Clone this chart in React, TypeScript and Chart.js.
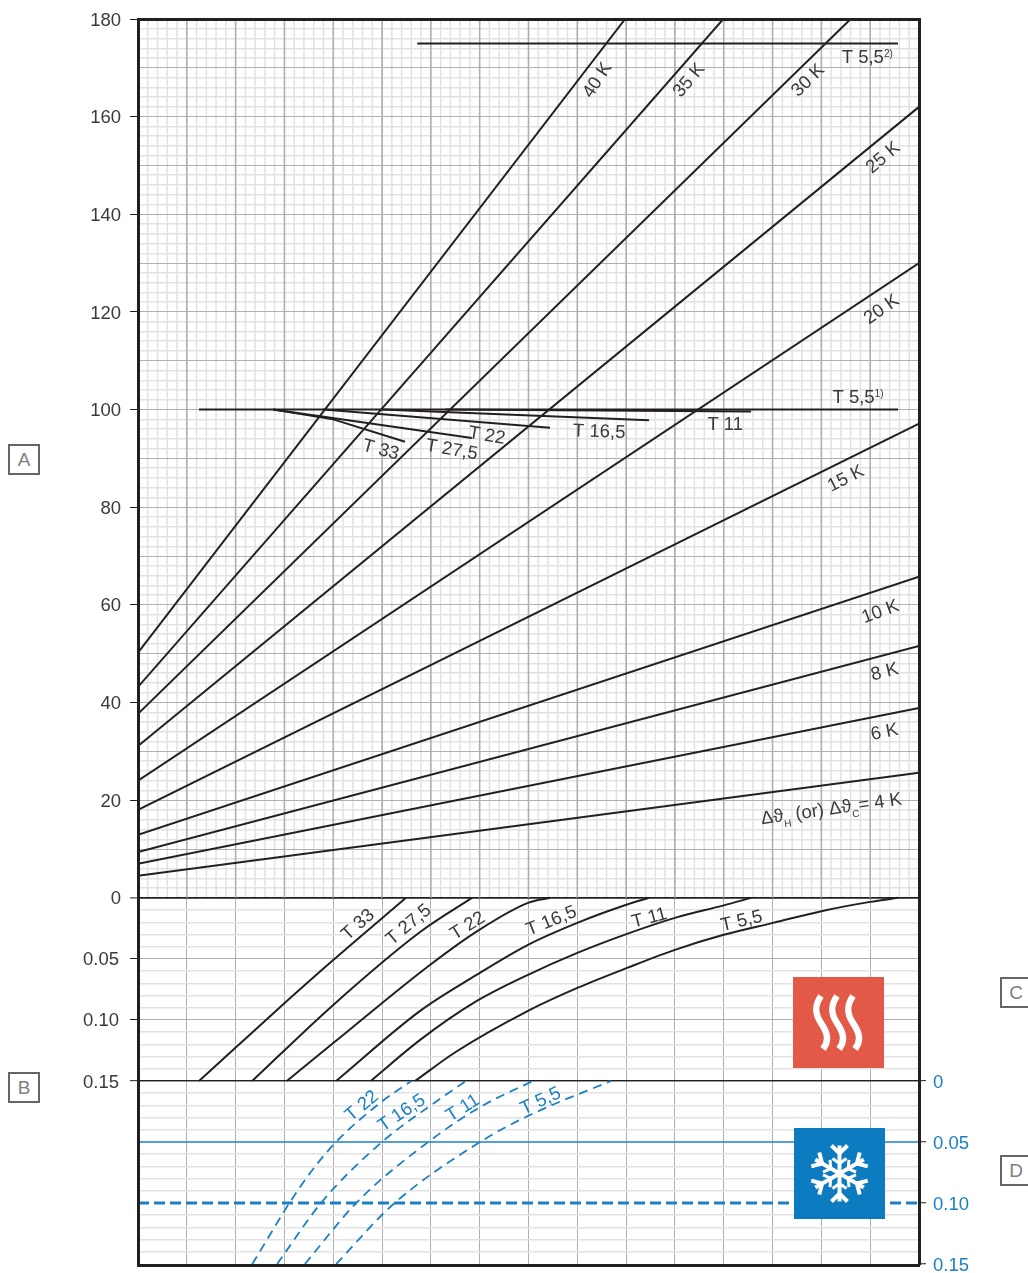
import React, { useEffect, useRef } from "react";
import Chart from "chart.js/auto";

// ---- upper field: [x, value]
const k40 = [[0, 50.2], [9.98, 180]];
const k35 = [[0, 43.2], [11.99, 180]];
const k30 = [[0, 37.7], [14.6, 180]];
const k25 = [[0, 31.1], [16, 162]];
const k20 = [[0, 24], [16, 130]];
const k15 = [[0, 18], [16, 97.1]];
const k10 = [[0, 12.9], [16, 65.8]];
const k8 = [[0, 9.4], [16, 51.6]];
const k6 = [[0, 7], [16, 38.9]];
const k4 = [[0, 4.5], [16, 25.6]];

const top55a = [[1.25, 100], [15.57, 100]];
const top55b = [[5.72, 175], [15.57, 175]];
const top11 = [[6.3, 100], [12.56, 99.6]];
const top165 = [[5, 100], [10.47, 97.8]];
const top22 = [[3.8, 100], [8.44, 96.3]];
const top275 = [[2.77, 100], [6.84, 94.2]];
const top33 = [[2.77, 100], [4.0, 98], [5.47, 93.4]];

// ---- heating pressure-drop field: [x, value]
const heat33 = [[1.25, 0.15], [1.99, 0.123], [3.01, 0.086], [4.0, 0.051], [5.49, 0]];
const heat275 = [[2.34, 0.15], [4.0, 0.0877], [5.78, 0.028], [6.84, 0]];
const heat22 = [[3.05, 0.15], [4.0, 0.119], [5.98, 0.055], [6.99, 0.0262], [7.99, 0.0041], [8.44, 0]];
const heat165 = [[4.06, 0.15], [5.78, 0.0926], [6.9, 0.064], [7.99, 0.0385], [9, 0.0205], [10.02, 0.0055], [10.47, 0]];
const heat11 = [[4.77, 0.15], [5.78, 0.1164], [6.9, 0.0855], [7.99, 0.0631], [9, 0.0451], [10.02, 0.0295], [11, 0.0164], [12, 0.0062], [12.56, 0]];
const heat55 = [[5.68, 0.15], [6.5, 0.1265], [7.99, 0.0926], [9, 0.0738], [10.02, 0.0574], [11, 0.0426], [12, 0.0303], [13.01, 0.0205], [14.02, 0.0107], [15, 0.0033], [15.57, 0]];

// ---- cooling pressure-drop field: [x, value]
const cool22 = [[2.34, 0.15], [3.32, 0.0869], [4, 0.0525], [4.96, 0.018], [5.6, 0]];
const cool165 = [[2.85, 0.15], [3.77, 0.099], [5, 0.05], [5.98, 0.0205], [6.72, 0]];
const cool11 = [[3.42, 0.15], [4.49, 0.0992], [5.98, 0.049], [7.05, 0.0205], [8.09, 0]];
const cool55 = [[4.06, 0.15], [5.23, 0.101], [7.05, 0.049], [8.03, 0.0279], [9.69, 0]];
const coolRefSolid = [[0, 0.05], [16, 0.05]];
const coolRefDashed = [[0, 0.1], [16, 0.1]];

// ---- axes
const xMajor = [0, 1, 2, 3, 4, 5, 6, 7, 8, 9, 10, 11, 12, 13, 14, 15, 16];
const mainLabelled = [0, 20, 40, 60, 80, 100, 120, 140, 160, 180];
const dropMinor = [0.01, 0.02, 0.03, 0.04, 0.05, 0.06, 0.07, 0.08, 0.09, 0.1, 0.11, 0.12, 0.13, 0.14, 0.15];
const heatLabelled = ["0.05", "0.10", "0.15"];
const coolLabelled = ["0", "0.05", "0.10", "0.15"];

const MAIN_MIN = -75.2;
const MAIN_MAX = 180;
const DROP_PER_MAIN = 1 / 250;
const HEAT_ZERO_TO_COOL_ZERO = 0.15;

const FONT = "'Liberation Sans', Arial, sans-serif";
const INK = "#231f20";
const TEXT = "#3a3a3a";
const BLUE = "#1b80c4";
const GRID_MINOR = "#e2e2e2";
const GRID_MAJOR = "#b0b0b3";
const FONT_SIZE = 18.5;

type Run = { t: string; size?: number; dy?: number };
type Note = { runs: Run[]; x: number; y: number; axis: string; rot: number; color?: string };

const plain = (t: string): Run[] => [{ t }];
const notes: Note[] = [
  { runs: plain("40 K"), x: 9.39, y: 167.6, axis: "y", rot: -57 },
  { runs: plain("35 K"), x: 11.27, y: 167.6, axis: "y", rot: -50 },
  { runs: plain("30 K"), x: 13.71, y: 167.6, axis: "y", rot: -45 },
  { runs: plain("25 K"), x: 15.25, y: 151.8, axis: "y", rot: -40 },
  { runs: plain("20 K"), x: 15.22, y: 120.7, axis: "y", rot: -35 },
  { runs: plain("15 K"), x: 14.49, y: 86.1, axis: "y", rot: -27 },
  { runs: plain("10 K"), x: 15.2, y: 58.8, axis: "y", rot: -20 },
  { runs: plain("8 K"), x: 15.29, y: 46.5, axis: "y", rot: -14 },
  { runs: plain("6 K"), x: 15.29, y: 34.2, axis: "y", rot: -11 },
  {
    runs: [
      { t: "Δϑ" },
      { t: "H", size: 10, dy: 6 },
      { t: " (or) Δϑ" },
      { t: "C", size: 10, dy: 6 },
      { t: "= 4 K" },
    ],
    x: 14.2, y: 18.4, axis: "y", rot: -8,
  },
  { runs: [{ t: "T 5,5" }, { t: "1)", size: 10, dy: -6 }], x: 14.75, y: 102.7, axis: "y", rot: 0 },
  { runs: [{ t: "T 5,5" }, { t: "2)", size: 10, dy: -6 }], x: 14.94, y: 172.3, axis: "y", rot: 0 },
  { runs: plain("T 11"), x: 12.03, y: 97.1, axis: "y", rot: 0 },
  { runs: plain("T 16,5"), x: 9.45, y: 95.7, axis: "y", rot: 2 },
  { runs: plain("T 22"), x: 7.15, y: 94.9, axis: "y", rot: 10 },
  { runs: plain("T 27,5"), x: 6.43, y: 92, axis: "y", rot: 10 },
  { runs: plain("T 33"), x: 4.98, y: 92, axis: "y", rot: 15 },
  { runs: plain("T 33"), x: 4.49, y: 0.0213, axis: "yHeat", rot: -42 },
  { runs: plain("T 27,5"), x: 5.53, y: 0.0213, axis: "yHeat", rot: -40 },
  { runs: plain("T 22"), x: 6.74, y: 0.0221, axis: "yHeat", rot: -32 },
  { runs: plain("T 16,5"), x: 8.46, y: 0.018, axis: "yHeat", rot: -22 },
  { runs: plain("T 11"), x: 10.47, y: 0.0156, axis: "yHeat", rot: -15 },
  { runs: plain("T 5,5"), x: 12.36, y: 0.018, axis: "yHeat", rot: -13 },
  { runs: plain("T 22"), x: 4.57, y: 0.0197, axis: "yCool", rot: -40, color: BLUE },
  { runs: plain("T 16,5"), x: 5.39, y: 0.0254, axis: "yCool", rot: -34, color: BLUE },
  { runs: plain("T 11"), x: 6.64, y: 0.0213, axis: "yCool", rot: -32, color: BLUE },
  { runs: plain("T 5,5"), x: 8.24, y: 0.0156, axis: "yCool", rot: -25, color: BLUE },
];

const hundredths = (v: number) => Math.round(v * 100);
const isFive = (v: number) => hundredths(v) % 5 === 0;

const underlay = {
  id: "upperGrid",
  // the heating axis shares the label gutter with the main axis
  afterLayout(chart: any) {
    chart.scales.yHeat.left = 0;
  },
  beforeDraw(chart: any) {
    const { ctx, chartArea, scales } = chart;
    const yz = scales.y.getPixelForValue(0);
    ctx.save();
    ctx.lineWidth = 1.5;
    ctx.strokeStyle = GRID_MINOR;
    for (let i = 0; i <= 80; i++) {
      if (i % 5 === 0) continue;
      const x = scales.x.getPixelForValue(i / 5);
      ctx.beginPath();
      ctx.moveTo(x, chartArea.top);
      ctx.lineTo(x, yz);
      ctx.stroke();
    }
    ctx.restore();
  },
  beforeDatasetsDraw(chart: any) {
    const { ctx, chartArea, scales } = chart;
    const yz = scales.y.getPixelForValue(0);
    ctx.save();
    ctx.lineWidth = 1.6;
    ctx.strokeStyle = GRID_MAJOR;
    xMajor.slice(1, -1).forEach((v) => {
      const x = scales.x.getPixelForValue(v);
      ctx.beginPath();
      ctx.moveTo(x, chartArea.top);
      ctx.lineTo(x, yz);
      ctx.stroke();
    });
    ctx.restore();
  },
};

const annotations = {
  id: "curveNotes",
  afterDatasetsDraw(chart: any) {
    const { ctx, scales } = chart;
    ctx.save();
    ctx.textBaseline = "alphabetic";
    ctx.textAlign = "left";
    notes.forEach((n) => {
      const px = scales.x.getPixelForValue(n.x);
      const py = scales[n.axis].getPixelForValue(n.y);
      ctx.fillStyle = n.color || TEXT;
      const widths = n.runs.map((r) => {
        ctx.font = `${r.size || FONT_SIZE}px ${FONT}`;
        return ctx.measureText(r.t).width;
      });
      const total = widths.reduce((a, b) => a + b, 0);
      ctx.save();
      ctx.translate(px, py);
      ctx.rotate((n.rot * Math.PI) / 180);
      let cx = -total / 2;
      n.runs.forEach((r, i) => {
        ctx.font = `${r.size || FONT_SIZE}px ${FONT}`;
        ctx.fillText(r.t, cx, 6.5 + (r.dy || 0));
        cx += widths[i];
      });
      ctx.restore();
    });
    ctx.restore();
  },
};

const toPts = (a: number[][]) => a.map(([x, y]) => ({ x, y }));
const line = (d: number[][], axis = "y", extra: any = {}) => ({
  data: toPts(d),
  yAxisID: axis,
  borderColor: INK,
  borderWidth: 2,
  pointRadius: 0,
  fill: false,
  ...extra,
});
const curve = { cubicInterpolationMode: "monotone" };
const coolCurve = { ...curve, borderColor: BLUE, borderWidth: 1.8, borderDash: [9, 6] };
const noMargins = (s: any) => {
  s.paddingTop = 0;
  s.paddingBottom = 0;
  s.paddingLeft = 0;
  s.paddingRight = 0;
};

function Tag({ letter, top, left }: { letter: string; top: number; left: number }) {
  return (
    <div
      style={{
        position: "absolute",
        left,
        top,
        width: 28,
        height: 27,
        border: "2px solid #666",
        color: "#808080",
        font: `19px ${FONT}`,
        lineHeight: "27px",
        textAlign: "center",
        background: "#fff",
      }}
    >
      {letter}
    </div>
  );
}

const wave = (dx: number) =>
  `M${821 + dx} 996 C${814 + dx} 1006 ${815 + dx} 1014 ${821 + dx} 1023 S${830 + dx} 1040 ${823 + dx} 1049`;

function Icons() {
  const arm = [0, 60, 120, 180, 240, 300];
  return (
    <svg style={{ position: "absolute", left: 0, top: 0 }} width={1028} height={1273}>
      <rect x={793} y={977} width={91} height={91} fill="#e25a47" />
      {[0, 16, 32].map((d) => (
        <path key={d} d={wave(d)} fill="none" stroke="#fff" strokeWidth={6.5} />
      ))}
      <rect x={794} y={1128} width={91} height={91} fill="#0d7bc0" />
      <g transform="translate(839.5 1173.5)" stroke="#fff" strokeWidth={4} fill="none">
        {arm.map((a) => (
          <g key={a} transform={`rotate(${a})`}>
            <path d="M0 0 L0 -28" />
            <path d="M-8 -28 L0 -20 L8 -28" />
            <path d="M-7 -15 L0 -10 L7 -15" strokeWidth={3} />
          </g>
        ))}
      </g>
    </svg>
  );
}

export default function App() {
  const ref = useRef<HTMLCanvasElement | null>(null);

  useEffect(() => {
    document.body.style.margin = "0";
    const chart = new Chart(ref.current as HTMLCanvasElement, {
      type: "line",
      plugins: [underlay, annotations],
      data: {
        datasets: [
          line(k40), line(k35), line(k30), line(k25), line(k20),
          line(k15), line(k10), line(k8), line(k6), line(k4),
          line(top55a), line(top55b), line(top11), line(top165),
          line(top22), line(top275), line(top33),
          line(heat33, "yHeat", curve), line(heat275, "yHeat", curve), line(heat22, "yHeat", curve),
          line(heat165, "yHeat", curve), line(heat11, "yHeat", curve), line(heat55, "yHeat", curve),
          line(cool22, "yCool", coolCurve), line(cool165, "yCool", coolCurve),
          line(cool11, "yCool", coolCurve), line(cool55, "yCool", coolCurve),
          line(coolRefSolid, "yCool", { borderColor: BLUE, borderWidth: 1.4 }),
          line(coolRefDashed, "yCool", { borderColor: BLUE, borderWidth: 2.8, borderDash: [11, 5] }),
        ] as any,
      },
      options: {
        responsive: false,
        animation: false,
        layout: { padding: { top: 19, bottom: 8, left: 0, right: 0 } },
        plugins: { legend: { display: false }, tooltip: { enabled: false } },
        scales: {
          x: {
            type: "linear",
            min: 0,
            max: 16,
            position: "bottom",
            afterBuildTicks: (s: any) => { s.ticks = xMajor.map((value) => ({ value })); },
            afterFit: (s: any) => { s.height = 0; noMargins(s); },
            ticks: { display: false, autoSkip: false },
            grid: { color: GRID_MAJOR, lineWidth: 1, drawTicks: false },
            border: { color: INK, width: 3, z: 2 },
          },
          xTop: {
            type: "linear",
            min: 0,
            max: 16,
            position: "top",
            afterFit: (s: any) => { s.height = 0; noMargins(s); },
            ticks: { display: false },
            grid: { drawOnChartArea: false, drawTicks: false },
            border: { color: INK, width: 3, z: 2 },
          },
          y: {
            type: "linear",
            position: "left",
            weight: 1,
            min: MAIN_MIN,
            max: MAIN_MAX,
            afterBuildTicks: (s: any) => {
              const t = [];
              for (let v = 0; v <= 180; v += 2) t.push({ value: v });
              s.ticks = t;
            },
            afterFit: (s: any) => { s.width = 138; noMargins(s); },
            ticks: {
              autoSkip: false,
              padding: 9,
              labelOffset: 1.5,
              color: TEXT,
              font: { family: FONT, size: FONT_SIZE },
              callback: (v: any) => (mainLabelled.includes(Number(v)) ? String(v) : ""),
            },
            grid: {
              tickLength: 8,
              color: (c: any) => {
                const v = c.tick?.value;
                if (v === 0) return INK;
                return v % 10 === 0 ? GRID_MAJOR : GRID_MINOR;
              },
              lineWidth: (c: any) => {
                const v = c.tick?.value;
                if (v === 0) return 1.8;
                return v % 10 === 0 ? 1 : 1.5;
              },
              tickColor: (c: any) => (mainLabelled.includes(c.tick?.value) ? INK : "transparent"),
              tickWidth: 1,
            },
            border: { color: INK, width: 3, z: 2 },
          },
          yHeat: {
            type: "linear",
            position: "left",
            weight: 0,
            reverse: true,
            min: -MAIN_MAX * DROP_PER_MAIN,
            max: -MAIN_MIN * DROP_PER_MAIN,
            afterBuildTicks: (s: any) => { s.ticks = dropMinor.map((value) => ({ value })); },
            afterFit: (s: any) => { s.width = 0; noMargins(s); },
            ticks: {
              autoSkip: false,
              padding: 11,
              labelOffset: 1.5,
              color: TEXT,
              font: { family: FONT, size: FONT_SIZE },
              callback: (v: any) => {
                const label = Number(v).toFixed(2);
                return heatLabelled.includes(label) ? label : "";
              },
            },
            grid: {
              tickLength: 8,
              color: (c: any) => {
                const v = c.tick?.value;
                if (hundredths(v) === 15) return INK;
                return isFive(v) ? GRID_MAJOR : GRID_MINOR;
              },
              lineWidth: (c: any) => {
                const v = c.tick?.value;
                if (hundredths(v) === 15) return 1.3;
                return isFive(v) ? 1 : 1.5;
              },
              tickColor: (c: any) => (isFive(c.tick?.value) ? INK : "transparent"),
              tickWidth: 1,
            },
            border: { display: false },
          },
          yCool: {
            type: "linear",
            position: "right",
            reverse: true,
            min: -MAIN_MAX * DROP_PER_MAIN - HEAT_ZERO_TO_COOL_ZERO,
            max: -MAIN_MIN * DROP_PER_MAIN - HEAT_ZERO_TO_COOL_ZERO,
            afterBuildTicks: (s: any) => {
              s.ticks = [{ value: 0 }, ...dropMinor.map((value) => ({ value }))];
            },
            afterFit: (s: any) => { s.width = 109; noMargins(s); },
            ticks: {
              autoSkip: false,
              padding: 7,
              labelOffset: 1.5,
              color: BLUE,
              font: { family: FONT, size: FONT_SIZE },
              callback: (v: any) => {
                const n = Number(v);
                const label = n === 0 ? "0" : n.toFixed(2);
                return coolLabelled.includes(label) ? label : "";
              },
            },
            grid: {
              tickLength: 7,
              color: (c: any) => {
                const v = c.tick?.value;
                if (hundredths(v) === 0) return INK;
                return isFive(v) ? "transparent" : GRID_MINOR;
              },
              lineWidth: (c: any) => (hundredths(c.tick?.value) === 0 ? 1.3 : 1.5),
              tickColor: (c: any) => (isFive(c.tick?.value) ? INK : "transparent"),
              tickWidth: 1,
            },
            border: { color: INK, width: 3, z: 2 },
          },
        },
      } as any,
    });
    return () => chart.destroy();
  }, []);

  return (
    <div
      style={{
        position: "absolute",
        left: 0,
        top: 0,
        width: 1028,
        height: 1273,
        overflow: "hidden",
        background: "#fff",
      }}
    >
      <canvas ref={ref} width={1028} height={1273} style={{ display: "block" }} />
      <Icons />
      <Tag letter="A" left={8} top={444} />
      <Tag letter="B" left={8} top={1072} />
      <Tag letter="C" left={1000} top={977} />
      <Tag letter="D" left={1000} top={1155} />
    </div>
  );
}
